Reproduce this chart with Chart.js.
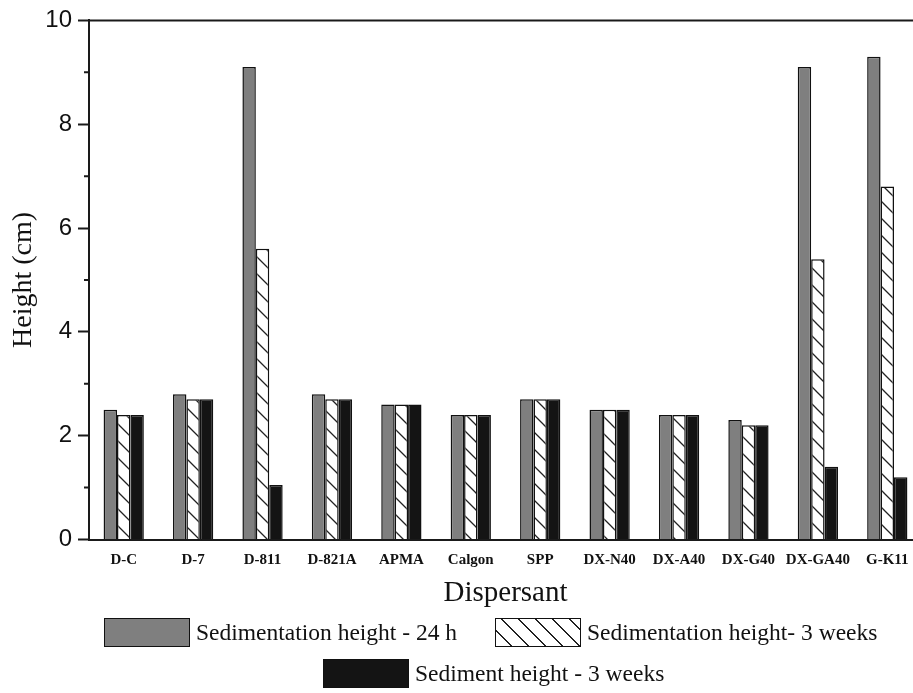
<!DOCTYPE html>
<html>
<head>
<meta charset="utf-8">
<script src="https://cdn.jsdelivr.net/npm/chart.js@4.4.0/dist/chart.umd.min.js"></script>
<style>
  html, body { margin: 0; padding: 0; background: #fff; overflow: hidden; width: 913px; height: 693px; }
  #wrap { position: relative; width: 913px; height: 693px; overflow: hidden; }
  canvas { position: absolute; left: 0; top: 0; }
  .lg-item { position: absolute; display: flex; align-items: center; font-family: 'Liberation Serif', 'Times New Roman', serif; font-size: 23.5px; color: #111; white-space: nowrap; }
  .lg-box { width: 84px; height: 27px; border: 1.5px solid #111; margin-right: 6px; }
</style>
</head>
<body>
<div id="wrap">
  <canvas id="c" width="922" height="693"></canvas>
  <div id="legend"></div>
</div>
<script>
// ---- data ----
const categories = ['D-C', 'D-7', 'D-811', 'D-821A', 'APMA', 'Calgon', 'SPP', 'DX-N40', 'DX-A40', 'DX-G40', 'DX-GA40', 'G-K11'];
const sedimentation24h = [2.5, 2.8, 9.1, 2.8, 2.6, 2.4, 2.7, 2.5, 2.4, 2.3, 9.1, 9.3];
const sedimentation3w  = [2.4, 2.7, 5.6, 2.7, 2.6, 2.4, 2.7, 2.5, 2.4, 2.2, 5.4, 6.8];
const sediment3w       = [2.4, 2.7, 1.05, 2.7, 2.6, 2.4, 2.7, 2.5, 2.4, 2.2, 1.4, 1.2];
const seriesLabels = ['Sedimentation height - 24 h', 'Sedimentation height- 3 weeks', 'Sediment height - 3 weeks'];
const yTicksMajor = [0, 2, 4, 6, 8, 10];
const yTicksMinor = [1, 3, 5, 7, 9];

// hatch pattern
function makeHatch() {
  const s = 17;
  const c = document.createElement('canvas');
  c.width = s; c.height = s;
  const g = c.getContext('2d');
  g.fillStyle = '#fff';
  g.fillRect(0, 0, s, s);
  g.strokeStyle = '#222';
  g.lineWidth = 1.3;
  g.beginPath();
  g.moveTo(-1, -1); g.lineTo(s + 1, s + 1);
  g.moveTo(-2, s - 2); g.lineTo(2, s + 2);
  g.moveTo(s - 2, -2); g.lineTo(s + 2, 2);
  g.stroke();
  return document.getElementById('c').getContext('2d').createPattern(c, 'repeat');
}
const hatch = makeHatch();

const axisExtras = {
  id: 'axisExtras',
  afterDraw(chart) {
    const { ctx, chartArea, scales } = chart;
    const y = scales.y;
    ctx.save();
    ctx.strokeStyle = '#1a1a1a';
    ctx.lineWidth = 2;
    ctx.beginPath();
    ctx.moveTo(chartArea.left - 1, chartArea.top);
    ctx.lineTo(chartArea.right, chartArea.top);
    yTicksMinor.forEach(v => {
      const py = y.getPixelForValue(v);
      ctx.moveTo(chartArea.left - 5, py);
      ctx.lineTo(chartArea.left, py);
    });
    ctx.stroke();
    ctx.restore();
  }
};

const serif = "'Liberation Serif', 'Times New Roman', serif";

const chart = new Chart(document.getElementById('c'), {
  type: 'bar',
  data: {
    labels: categories,
    datasets: [
      { label: seriesLabels[0], data: sedimentation24h, backgroundColor: '#7f7f7f', borderColor: '#111', borderWidth: 1.5 },
      { label: seriesLabels[1], data: sedimentation3w, backgroundColor: hatch, borderColor: '#111', borderWidth: 1.5 },
      { label: seriesLabels[2], data: sediment3w, backgroundColor: '#141414', borderColor: '#111', borderWidth: 1.5 }
    ]
  },
  options: {
    responsive: false,
    animation: false,
    layout: { padding: { left: 0, right: 0, top: 20, bottom: 85.5 } },
    datasets: { bar: { barPercentage: 1.0, categoryPercentage: 0.58, borderSkipped: 'start' } },
    plugins: { legend: { display: false }, tooltip: { enabled: false } },
    scales: {
      x: {
        offset: true,
        grid: { display: true, drawOnChartArea: false, drawTicks: false },
        border: { display: true, color: '#1a1a1a', width: 2 },
        ticks: { color: '#111', padding: 12, maxRotation: 0, autoSkip: false, font: { family: serif, size: 15, weight: 'bold' } },
        title: { display: true, text: 'Dispersant', color: '#111', padding: { top: -3, bottom: 0 }, font: { family: serif, size: 29, lineHeight: 1 } }
      },
      y: {
        min: 0, max: 10,
        afterFit(scale) { scale.width = 89; },
        afterBuildTicks(scale) { scale.ticks = yTicksMajor.map(v => ({ value: v })); },
        grid: { display: true, drawOnChartArea: false, drawTicks: true, tickLength: 11, tickColor: '#1a1a1a', tickWidth: 2 },
        border: { display: true, color: '#1a1a1a', width: 2 },
        ticks: { color: '#111', padding: 6, font: { family: "'Liberation Sans', Arial, sans-serif", size: 24 } },
        title: { display: true, text: 'Height (cm)', color: '#111', padding: { top: 7, bottom: 0 }, font: { family: serif, size: 28 } }
      }
    }
  },
  plugins: [axisExtras]
});

// legend (HTML), built from the datasets
const legendPos = [
  { left: 104, top: 618 },
  { left: 495, top: 618 },
  { left: 323, top: 659 }
];
const legendEl = document.getElementById('legend');
chart.data.datasets.forEach((ds, i) => {
  const item = document.createElement('div');
  item.className = 'lg-item';
  item.style.left = legendPos[i].left + 'px';
  item.style.top = legendPos[i].top + 'px';
  const box = document.createElement('div');
  box.className = 'lg-box';
  if (i === 1) {
    box.style.background = 'repeating-linear-gradient(45deg, #fff 0px, #fff 10.5px, #222 10.5px, #222 12px)';
  } else {
    box.style.background = ds.backgroundColor;
  }
  const txt = document.createElement('span');
  txt.textContent = ds.label;
  item.appendChild(box);
  item.appendChild(txt);
  legendEl.appendChild(item);
});
</script>
</body>
</html>
